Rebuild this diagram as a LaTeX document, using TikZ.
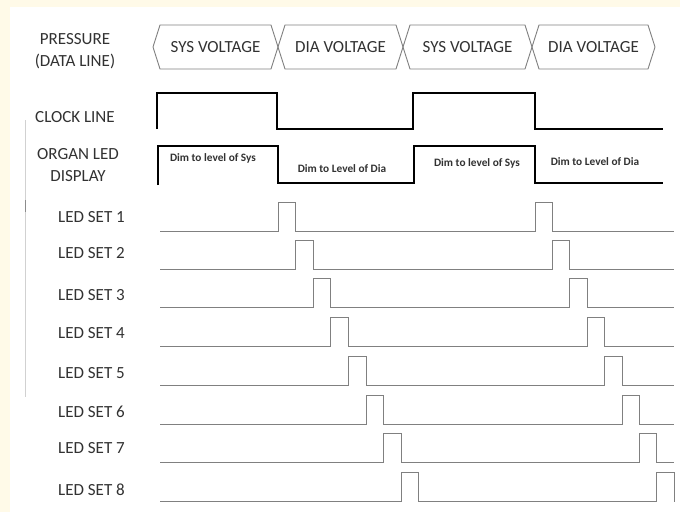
\documentclass[tikz,border=0pt]{standalone}
\usepackage{fontspec}
\setmainfont{Carlito}
\usepackage{tikz}
\usetikzlibrary{positioning}
\definecolor{cream}{RGB}{255,250,232}
\definecolor{txtgray}{RGB}{50,50,50}

\begin{document}
\begin{tikzpicture}[x=1pt,y=-1pt,
  lbl/.style={inner sep=0pt,text=txtgray,font=\fontsize{17}{22}\selectfont,align=center},
  dimtxt/.style={inner sep=0pt,text=txtgray,font=\bfseries\fontsize{11.3}{13}\selectfont},
  hexline/.style={draw=black!50,line width=0.9pt,line join=miter},
  sig/.style={draw=black,line width=2.3pt,line join=miter},
  ledline/.style={draw=black!50,line width=1pt,line join=miter}]
\useasboundingbox (0,0) rectangle (680,512);
\fill[cream] (0,0) rectangle (680,512);
\fill[white] (10,7) rectangle (680,512);
\draw[black!18,line width=0.8pt] (25,120) -- (25,397);
\draw[black!45,line width=0.8pt] (25,200) -- (25,212);
% row labels
\node[lbl] (pres) at (75,51) {PRESSURE\\(DATA LINE)};
\node[lbl] (clk) at (75,117) {CLOCK LINE};
\node[lbl] (organ) at (78,165) {ORGAN LED\\DISPLAY};
% data line
\foreach \a/\b/\t/\n in {153/278/SYS VOLTAGE/sys1,278/403/DIA VOLTAGE/dia1,403/532/SYS VOLTAGE/sys2,532/655/DIA VOLTAGE/dia2}{
  \draw[hexline] (\a,47) -- (\a+7,25) -- (\b-7,25) -- (\b,47) -- (\b-7,69) -- (\a+7,69) -- cycle;
  \node[lbl] (\n) at ({(\a+\b)/2},47) {\t};
}
% clock line
\draw[sig] (157,129) -- (157,93) -- (277,93) -- (277,129) -- (413,129) -- (413,93) -- (535,93) -- (535,129) -- (663,129);
% organ led display
\draw[sig] (158,185) -- (158,146) -- (278,146) -- (278,183) -- (414,183) -- (414,146) -- (535,146) -- (535,183) -- (663,183);
\node[dimtxt] (dsys1) at (213,158) {Dim to level of Sys};
\node[dimtxt] (ddia1) at (342,169) {Dim to Level of Dia};
\node[dimtxt] (dsys2) at (477,163) {Dim to level of Sys};
\node[dimtxt] (ddia2) at (595,162) {Dim to Level of Dia};
% led sets
\foreach \k/\y/\ty in {1/231/217,2/269/253,3/307/295,4/346/333,5/385/373,6/424/412,7/462/448,8/501/490}{
  \node[lbl,anchor=west] (led\k) at (58,\ty) {LED SET \k};
  \pgfmathsetmacro\pa{278+(\k-1)*17.6}
  \pgfmathsetmacro\pb{\pa+17.6}
  \pgfmathsetmacro\pc{535+(\k-1)*17.4}
  \pgfmathsetmacro\pd{\pc+17.4}
  \draw[ledline] (160,\y) -- (\pa,\y) -- (\pa,\y-29) -- (\pb,\y-29) -- (\pb,\y) -- (\pc,\y) -- (\pc,\y-29) -- (\pd,\y-29) -- (\pd,\y) -- (674,\y);
}
\end{tikzpicture}
\end{document}
